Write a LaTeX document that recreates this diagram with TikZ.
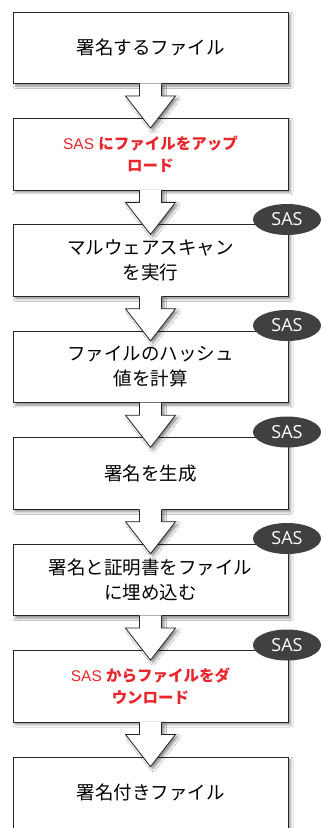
\documentclass[tikz,border=0pt]{standalone}
\usepackage{fontspec}
\setmainfont{Liberation Sans}
\newfontfamily\jp{Noto Sans CJK JP}
\newfontfamily\osans{Open Sans}
\usetikzlibrary{shapes.geometric,shadows.blur,calc}
\definecolor{redtxt}{RGB}{232,38,45}
\definecolor{sasfill}{RGB}{64,64,64}
\tikzset{
  softshadow/.style={blur shadow={shadow xshift=2.5pt, shadow yshift=-2.5pt, shadow blur radius=2.5pt, shadow opacity=45}},
  stepbox/.style={draw=black!85, line width=0.8pt, fill=white, minimum width=275pt, minimum height=71.5pt,
    inner sep=0pt, align=center, softshadow},
  blacktext/.style={font=\jp\fontsize{18.5}{25}\selectfont},
  redtext/.style={text=redtxt, font=\fontsize{15.5}{21.5}\selectfont},
  sasbadge/.style={ellipse, fill=sasfill, minimum width=68pt, minimum height=31pt, inner sep=0pt,
    text=white, font=\osans\fontsize{18}{20}\selectfont},
  arrowline/.style={draw=black!85, line width=0.8pt, line join=miter},
}
\newcommand\blkarrow[2]{%
  \fill[white, softshadow] ($(#1.south)+(-11,-0.6)$) -- ($(#1.south)+(-11,12)$) -- ($(#1.south)+(-25,12)$)
    -- ($(#2.north)+(0,10)$) -- ($(#1.south)+(25,12)$) -- ($(#1.south)+(11,12)$) -- ($(#1.south)+(11,-0.6)$) -- cycle;
  \draw[arrowline] ($(#1.south)+(-11,0)$) -- ($(#1.south)+(-11,12)$) -- ($(#1.south)+(-25,12)$)
    -- ($(#2.north)+(0,10)$) -- ($(#1.south)+(25,12)$) -- ($(#1.south)+(11,12)$) -- ($(#1.south)+(11,0)$);
}
\begin{document}
\begin{tikzpicture}[x=1pt,y=-1pt]
\useasboundingbox (0,0) rectangle (321,828);
\fill[white] (0,0) rectangle (321,828);
\begin{scope}
\clip (0,0) rectangle (321,828);
\node[stepbox, blacktext] (b1) at (150.5, 47.75) {署名するファイル};
\node[stepbox, redtext] (b2) at (150.5, 154.2) {SAS {\jp\bfseries にファイルをアップ}\\{\jp\bfseries ロード}};
\node[stepbox, blacktext] (b3) at (150.5, 260.6) {マルウェアスキャン\\を実行};
\node[stepbox, blacktext] (b4) at (150.5, 367.0) {ファイルのハッシュ\\値を計算};
\node[stepbox, blacktext] (b5) at (150.5, 473.5) {署名を生成};
\node[stepbox, blacktext] (b6) at (150.5, 579.9) {署名と証明書をファイル\\に埋め込む};
\node[stepbox, redtext] (b7) at (150.5, 686.3) {SAS {\jp\bfseries からファイルをダ}\\{\jp\bfseries ウンロード}};
\node[stepbox, blacktext] (b8) at (150.5, 792.8) {署名付きファイル};
\blkarrow{b1}{b2}
\blkarrow{b2}{b3}
\blkarrow{b3}{b4}
\blkarrow{b4}{b5}
\blkarrow{b5}{b6}
\blkarrow{b6}{b7}
\blkarrow{b7}{b8}
\node[sasbadge] (s3) at (287, 219.5) {SAS};
\node[sasbadge] (s4) at (287, 325.5) {SAS};
\node[sasbadge] (s5) at (287, 432) {SAS};
\node[sasbadge] (s6) at (287, 538.5) {SAS};
\node[sasbadge] (s7) at (287, 645) {SAS};
\end{scope}
\end{tikzpicture}
\end{document}
